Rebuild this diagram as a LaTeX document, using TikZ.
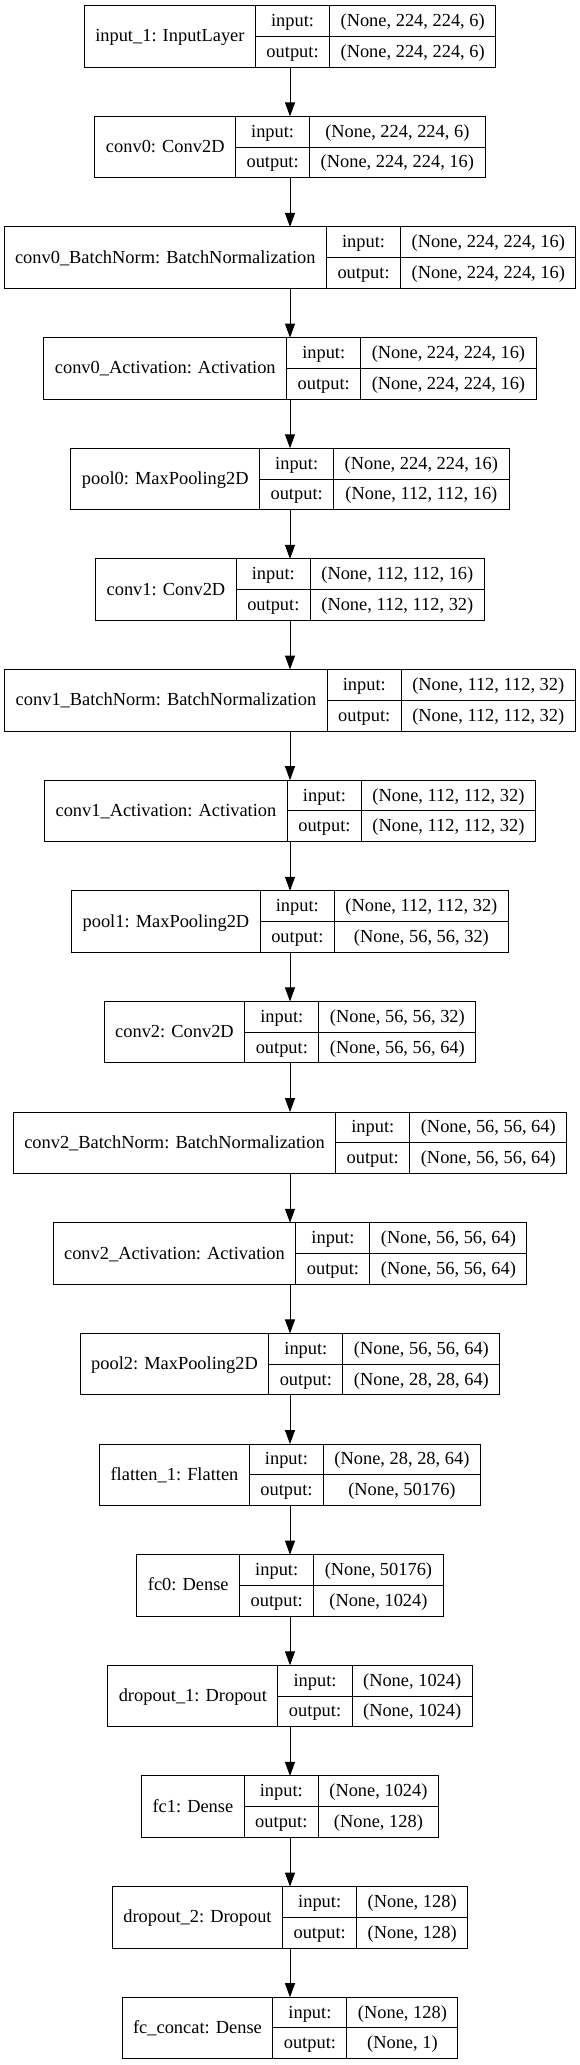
\documentclass[tikz,border=0pt]{standalone}
\usepackage{fontspec}
\setmainfont{Liberation Serif}
\usetikzlibrary{arrows.meta}
\newlength\kwA \newlength\kwB \newlength\kwC \newlength\kwT \newlength\kwD
\newcommand\kfont{\fontsize{18.4bp}{22bp}\selectfont}
\def\kh{61.5bp}
\tikzset{
  rec/.style={draw=black, line width=1bp, inner sep=0pt, outer sep=0pt, minimum height=\kh},
  recline/.style={draw=black, line width=1bp},
  txt/.style={font=\kfont, inner sep=0pt, text height=14bp, text depth=3bp, anchor=center},
  arr/.style={draw=black, line width=1bp, -{Triangle[length=14bp,width=10bp]}}
}
% measurement pass (outside the picture)
\newcommand\kmeasure[5]{%
  \settowidth\kwA{\kfont #3}\addtolength\kwA{22bp}%
  \settowidth\kwB{\kfont output:}\addtolength\kwB{22bp}%
  \settowidth\kwC{\kfont #4}\settowidth\kwD{\kfont #5}%
  \ifdim\kwD>\kwC \kwC=\kwD\fi \addtolength\kwC{22bp}%
  \kwT=\kwA \advance\kwT by\kwB \advance\kwT by\kwC
  \expandafter\xdef\csname kA#1\endcsname{\the\kwA}%
  \expandafter\xdef\csname kB#1\endcsname{\the\kwB}%
  \expandafter\xdef\csname kC#1\endcsname{\the\kwC}%
  \expandafter\xdef\csname kT#1\endcsname{\the\kwT}%
}
% drawing pass
\newcommand\klayer[5]{%
  \edef\wA{\csname kA#1\endcsname}%
  \edef\wB{\csname kB#1\endcsname}%
  \edef\wC{\csname kC#1\endcsname}%
  \edef\wT{\csname kT#1\endcsname}%
  \pgfmathsetmacro\ky{-(5.7+#2*110.64)}%
  \node[rec, minimum width=\wT, anchor=north] (#1) at (290bp,\ky bp) {};
  \draw[recline] ([xshift=\wA]#1.north west) -- ([xshift=\wA]#1.south west);
  \draw[recline] ([xshift=\wA+\wB]#1.north west) -- ([xshift=\wA+\wB]#1.south west);
  \draw[recline] ([xshift=\wA]#1.west) -- (#1.east);
  \node[txt] (#1-lab) at ([xshift=0.5*\wA]#1.west) {#3};
  \node[txt] (#1-il) at ([xshift=\wA+0.5*\wB, yshift=0.25*\kh]#1.west) {input:};
  \node[txt] (#1-ol) at ([xshift=\wA+0.5*\wB, yshift=-0.25*\kh]#1.west) {output:};
  \node[txt] (#1-si) at ([xshift=\wA+\wB+0.5*\wC, yshift=0.25*\kh]#1.west) {#4};
  \node[txt] (#1-so) at ([xshift=\wA+\wB+0.5*\wC, yshift=-0.25*\kh]#1.west) {#5};
}
\newcommand\alllayers[1]{%
#1{L0}{0}{input\_1: InputLayer}{(None, 224, 224, 6)}{(None, 224, 224, 6)}%
#1{L1}{1}{conv0: Conv2D}{(None, 224, 224, 6)}{(None, 224, 224, 16)}%
#1{L2}{2}{conv0\_BatchNorm: BatchNormalization}{(None, 224, 224, 16)}{(None, 224, 224, 16)}%
#1{L3}{3}{conv0\_Activation: Activation}{(None, 224, 224, 16)}{(None, 224, 224, 16)}%
#1{L4}{4}{pool0: MaxPooling2D}{(None, 224, 224, 16)}{(None, 112, 112, 16)}%
#1{L5}{5}{conv1: Conv2D}{(None, 112, 112, 16)}{(None, 112, 112, 32)}%
#1{L6}{6}{conv1\_BatchNorm: BatchNormalization}{(None, 112, 112, 32)}{(None, 112, 112, 32)}%
#1{L7}{7}{conv1\_Activation: Activation}{(None, 112, 112, 32)}{(None, 112, 112, 32)}%
#1{L8}{8}{pool1: MaxPooling2D}{(None, 112, 112, 32)}{(None, 56, 56, 32)}%
#1{L9}{9}{conv2: Conv2D}{(None, 56, 56, 32)}{(None, 56, 56, 64)}%
#1{L10}{10}{conv2\_BatchNorm: BatchNormalization}{(None, 56, 56, 64)}{(None, 56, 56, 64)}%
#1{L11}{11}{conv2\_Activation: Activation}{(None, 56, 56, 64)}{(None, 56, 56, 64)}%
#1{L12}{12}{pool2: MaxPooling2D}{(None, 56, 56, 64)}{(None, 28, 28, 64)}%
#1{L13}{13}{flatten\_1: Flatten}{(None, 28, 28, 64)}{(None, 50176)}%
#1{L14}{14}{fc0: Dense}{(None, 50176)}{(None, 1024)}%
#1{L15}{15}{dropout\_1: Dropout}{(None, 1024)}{(None, 1024)}%
#1{L16}{16}{fc1: Dense}{(None, 1024)}{(None, 128)}%
#1{L17}{17}{dropout\_2: Dropout}{(None, 128)}{(None, 128)}%
#1{L18}{18}{fc\_concat: Dense}{(None, 128)}{(None, 1)}%
}
\begin{document}
\alllayers\kmeasure
\begin{tikzpicture}
\useasboundingbox[fill=white] (0,0) rectangle (580bp,-2065bp);
\alllayers\klayer
\foreach \a/\b in {L0/L1,L1/L2,L2/L3,L3/L4,L4/L5,L5/L6,L6/L7,L7/L8,L8/L9,L9/L10,L10/L11,L11/L12,L12/L13,L13/L14,L14/L15,L15/L16,L16/L17,L17/L18}
  \draw[arr] (\a.south) -- (\b.north);
\end{tikzpicture}
\end{document}
